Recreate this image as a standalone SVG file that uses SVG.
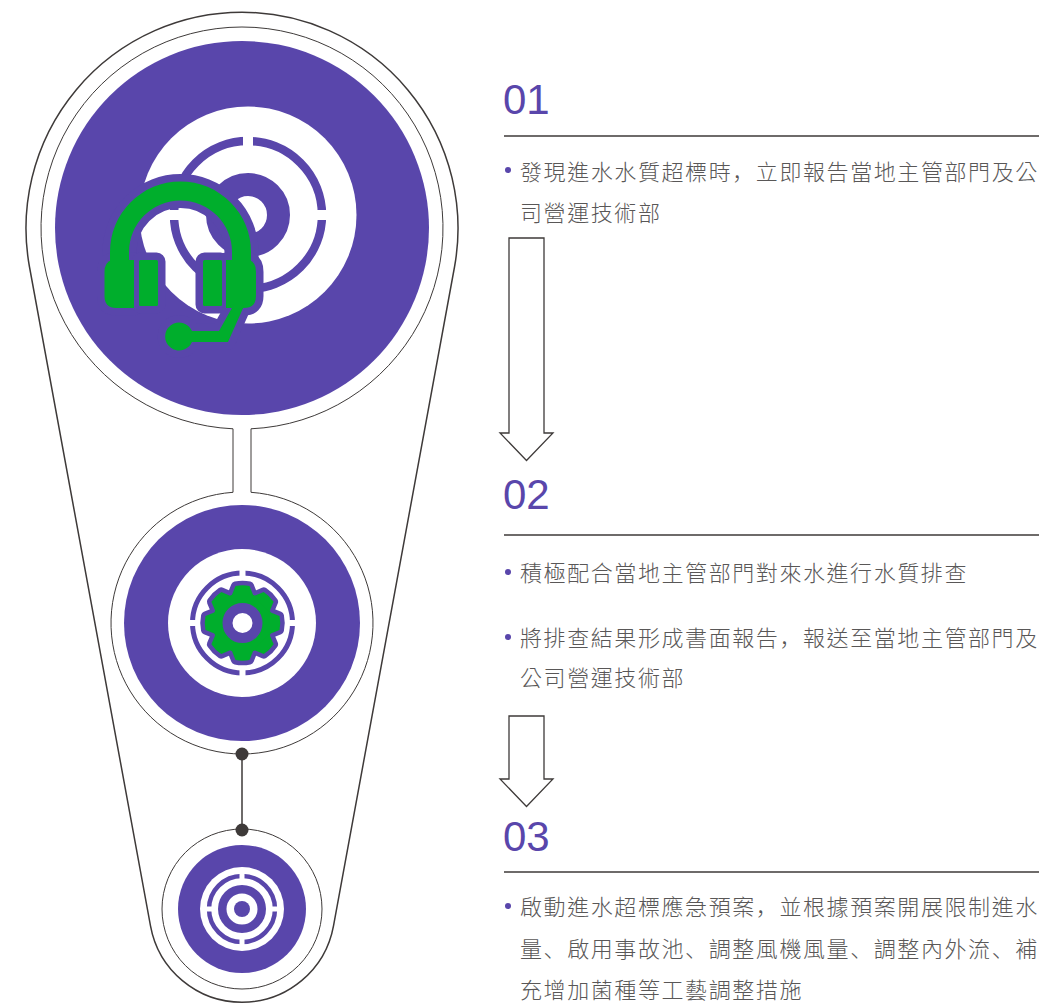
<svg xmlns="http://www.w3.org/2000/svg" xmlns:xlink="http://www.w3.org/1999/xlink" width="1039" height="1003" viewBox="0 0 1039 1003">
<style>
.line{fill:none;stroke:#3e3a39}
.p{fill:#5946ab}
.w{fill:#fff}
.g{fill:#00ae2c}
.halo{fill:#5946ab;stroke:#5946ab;stroke-linejoin:round}
.num{font-family:"Liberation Sans",Arimo,sans-serif;font-size:42px;fill:#5946ab}
.t{font-family:"Noto Sans CJK TC","Noto Sans CJK SC",sans-serif;font-weight:300;font-size:22px;letter-spacing:1.58px;fill:#595757}
.sc{font-family:"Noto Sans CJK SC",sans-serif}
.rule{stroke:#3e3a39;stroke-width:1.6}
.arrow{fill:#fff;stroke:#3e3a39;stroke-width:1.3}
</style>
<defs>
<g id="headset">
<path d="M110,262V252A70.5,70.5 0 0 1 251,252V262H232V252A51.5,51.5 0 0 0 129,252V262Z"/>
<path d="M112,260H134V308H116Q104.500,308 104.500,296V272Q104.500,262 112,260Z"/>
<rect x="139" y="260" width="19" height="46" rx="1.500"/>
<rect x="203" y="260" width="19" height="46" rx="1.500"/>
<path d="M249,260H226V308H244Q256,308 256,296V272Q256,262 249,260Z"/>
<path d="M244,306H233L219,331H192A14,14 0 1 0 192,342H228Z"/>
</g>
<path id="tooth" d="M-11,-27L-7,-37Q0,-38.500 7,-37L11,-27Z"/>
<g id="gear">
<circle cx="242.500" cy="623" r="30"/>
<use xlink:href="#tooth" href="#tooth" transform="translate(242.500 623)"/>
<use xlink:href="#tooth" href="#tooth" transform="translate(242.500 623) rotate(45)"/>
<use xlink:href="#tooth" href="#tooth" transform="translate(242.500 623) rotate(90)"/>
<use xlink:href="#tooth" href="#tooth" transform="translate(242.500 623) rotate(135)"/>
<use xlink:href="#tooth" href="#tooth" transform="translate(242.500 623) rotate(180)"/>
<use xlink:href="#tooth" href="#tooth" transform="translate(242.500 623) rotate(225)"/>
<use xlink:href="#tooth" href="#tooth" transform="translate(242.500 623) rotate(270)"/>
<use xlink:href="#tooth" href="#tooth" transform="translate(242.500 623) rotate(315)"/>
</g>
</defs>
<rect width="1039" height="1003" fill="#fff"/>
<g id="frame">
<path class="line" stroke-width="1.500" d="M29.500,267A216,216 0 1 1 454.500,267L333.500,925.800A93,93 0 0 1 150.500,925.800Z"/>
</g>
<g id="connectors">
<path class="line" stroke-width="1" d="M251,428.800A201,201 0 1 0 233,428.800V492.300A131,131 0 1 0 251,492.300Z"/>
<line x1="242" y1="754" x2="242" y2="830" stroke="#3e3a39" stroke-width="1.500"/>
<circle cx="242" cy="754" r="6.500" fill="#3e3a39"/>
<circle cx="242" cy="830" r="6.500" fill="#3e3a39"/>
<polygon class="arrow" points="509,238 544,238 544,433 553,433 526.500,460.500 500,433 509,433"/>
<polygon class="arrow" points="509,716 544,716 544,779 553,779 526.500,806.500 500,779 509,779"/>
</g>
<g id="node-1">
<circle class="p" cx="242" cy="228" r="187"/>
<circle class="w" cx="248" cy="215" r="108.500"/>
<circle cx="248" cy="215" r="74" fill="none" stroke="#5946ab" stroke-width="8.500"/>
<rect class="w" x="243" y="130" width="10" height="170"/>
<rect class="w" x="163" y="210" width="170" height="10"/>
<circle cx="248" cy="215" r="30.500" fill="none" stroke="#5946ab" stroke-width="23"/>
<use xlink:href="#headset" href="#headset" class="halo" stroke-width="15"/>
<use xlink:href="#headset" href="#headset" class="g"/>
</g>
<g id="node-2">
<circle cx="242" cy="623" r="118" class="p"/>
<circle cx="242" cy="623" r="74" class="w"/>
<circle cx="242.500" cy="623" r="50" fill="none" stroke="#5946ab" stroke-width="5"/>
<rect class="w" x="239.500" y="567" width="6" height="112"/>
<rect class="w" x="186" y="620" width="112" height="6"/>
<use xlink:href="#gear" href="#gear" class="halo" stroke-width="9"/>
<use xlink:href="#gear" href="#gear" class="g"/>
<circle cx="242.500" cy="623" r="15" fill="#fff" stroke="#5946ab" stroke-width="10"/>
</g>
<g id="node-3">
<circle cx="242" cy="909" r="80" fill="none" stroke="#3e3a39" stroke-width="1"/>
<circle cx="242" cy="909" r="64" class="p"/>
<circle cx="242" cy="909" r="42" class="w"/>
<circle cx="242" cy="909" r="33" fill="none" stroke="#5946ab" stroke-width="4.500"/>
<rect class="w" x="239.500" y="870" width="5" height="78"/>
<rect class="w" x="203" y="906.500" width="78" height="5"/>
<circle cx="242" cy="909" r="24" class="p"/>
<circle cx="242" cy="909" r="15.500" class="w"/>
<circle cx="242" cy="909" r="8" class="p"/>
</g>
<g id="step-1">
<text class="num" x="503" y="114">01</text>
<line class="rule" x1="504" y1="136" x2="1039" y2="136"/>
<circle class="p" cx="508" cy="170" r="3"/>
<text class="t" x="520" y="180">發現進水水質超標時<tspan class="sc">，</tspan>立即報告當地主管部門及公</text>
<text class="t" x="520" y="221">司營運技術部</text>
</g>
<g id="step-2">
<text class="num" x="503" y="509">02</text>
<line class="rule" x1="504" y1="535" x2="1039" y2="535"/>
<circle class="p" cx="508" cy="572" r="3"/>
<text class="t" x="520" y="581">積極配合當地主管部門對來水進行水質排查</text>
<circle class="p" cx="508" cy="637" r="3"/>
<text class="t" x="520" y="646">將排查結果形成書面報告<tspan class="sc">，</tspan>報送至當地主管部門及</text>
<text class="t" x="520" y="686">公司營運技術部</text>
</g>
<g id="step-3">
<text class="num" x="503" y="851">03</text>
<line class="rule" x1="504" y1="872" x2="1039" y2="872"/>
<circle class="p" cx="508" cy="906" r="3"/>
<text class="t" x="520" y="915">啟動進水超標應急預案<tspan class="sc">，</tspan>並根據預案開展限制進水</text>
<text class="t" x="520" y="957">量<tspan class="sc">、</tspan>啟用事故池<tspan class="sc">、</tspan>調整風機風量<tspan class="sc">、</tspan>調整內外流<tspan class="sc">、</tspan>補</text>
<text class="t" x="520" y="998">充增加菌種等工藝調整措施</text>
</g>
</svg>
